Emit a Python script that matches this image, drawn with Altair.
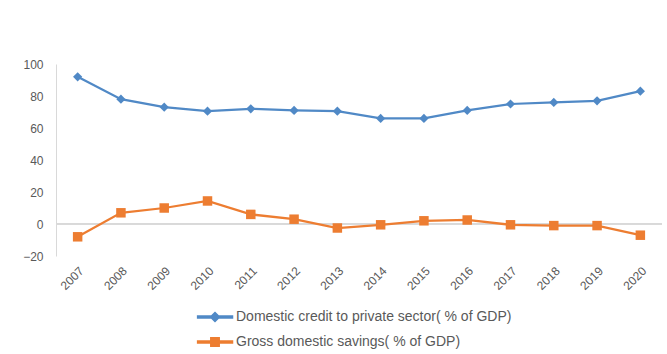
import altair as alt
import pandas as pd

years = ["2007", "2008", "2009", "2010", "2011", "2012", "2013",
         "2014", "2015", "2016", "2017", "2018", "2019", "2020"]
credit = [92, 78, 73, 70.5, 72, 71, 70.5, 66, 66, 71, 75, 76, 77, 83]
savings = [-8, 7, 10, 14.4, 6, 3, -2.5, -0.5, 2, 2.5, -0.5, -1, -1, -7]
series_names = ["Domestic credit to private sector( % of GDP)",
                "Gross domestic savings( % of GDP)"]
colors = ["#5089C6", "#ED7D31"]
y_ticks = [-20, 0, 20, 40, 60, 80, 100]

rows = []
for yr, v in zip(years, credit):
    rows.append({"year": yr, "value": v, "series": series_names[0]})
for yr, v in zip(years, savings):
    rows.append({"year": yr, "value": v, "series": series_names[1]})
df = pd.DataFrame(rows)

FONT = "Liberation Sans"
TXT = "#595959"

x_scale = alt.Scale(type="point", padding=0.5)
y_scale = alt.Scale(domain=[-20, 100], nice=False, zero=False)
x_axis = alt.Axis(title=None, labelAngle=-45, domain=False, ticks=False,
                  labelPadding=9, labelFontSize=12, labelColor=TXT, labelFont=FONT)
y_axis = alt.Axis(title=None, values=y_ticks, grid=False, ticks=False,
                  domainColor="#D9D9D9", labelPadding=13, labelFontSize=12,
                  labelColor=TXT, labelFont=FONT, labelOverlap=False)

x_enc = alt.X("year:O", sort=years, scale=x_scale, axis=x_axis)
y_enc = alt.Y("value:Q", scale=y_scale, axis=y_axis)
color_scale = alt.Scale(domain=series_names, range=colors)

base = alt.Chart(df)

# legend symbols: a short line (thin filled bar) with the series marker
paths = ["M-1,-0.06H1V0.06H-1Z M0,-0.26L0.26,0L0,0.26L-0.26,0Z",
         "M-1,-0.06H1V0.06H-1Z M-0.24,-0.24H0.24V0.24H-0.24Z"]

leg = alt.Legend(title=None, orient="none", legendX=140.5, legendY=243,
                 direction="vertical", symbolSize=1225, symbolOpacity=1,
                 labelOffset=2.5, labelFontSize=14, labelColor=TXT,
                 labelFont=FONT, labelLimit=400, padding=0, clipHeight=20,
                 rowPadding=5)

legend_layer = base.mark_point(filled=True, size=1).encode(
    x=x_enc, y=y_enc,
    color=alt.Color("series:N", scale=color_scale, legend=leg),
    shape=alt.Shape("series:N", scale=alt.Scale(domain=series_names, range=paths), legend=leg),
)

zero = base.mark_rule(color="#D9D9D9", strokeWidth=1).encode(
    y=alt.YDatum(0, scale=y_scale, axis=y_axis))

lines = base.mark_line(strokeWidth=2.25).encode(
    x=x_enc, y=y_enc,
    color=alt.Color("series:N", scale=color_scale, legend=leg))

pts_blue = base.transform_filter(alt.datum.series == series_names[0]).mark_point(
    shape="diamond", filled=True, size=85, color=colors[0], opacity=1
).encode(x=x_enc, y=y_enc)

pts_orange = base.transform_filter(alt.datum.series == series_names[1]).mark_point(
    shape="square", filled=True, size=90, color=colors[1], opacity=1
).encode(x=x_enc, y=y_enc)

chart = alt.layer(legend_layer, zero, lines, pts_blue, pts_orange).properties(
    width=606, height=192,
    autosize=alt.AutoSizeParams(type="none"),
    padding={"left": 56, "top": 64, "right": 5, "bottom": 98},
).configure_view(stroke=None)

chart.save("out.html", embed_options={"renderer": "svg", "actions": False})
